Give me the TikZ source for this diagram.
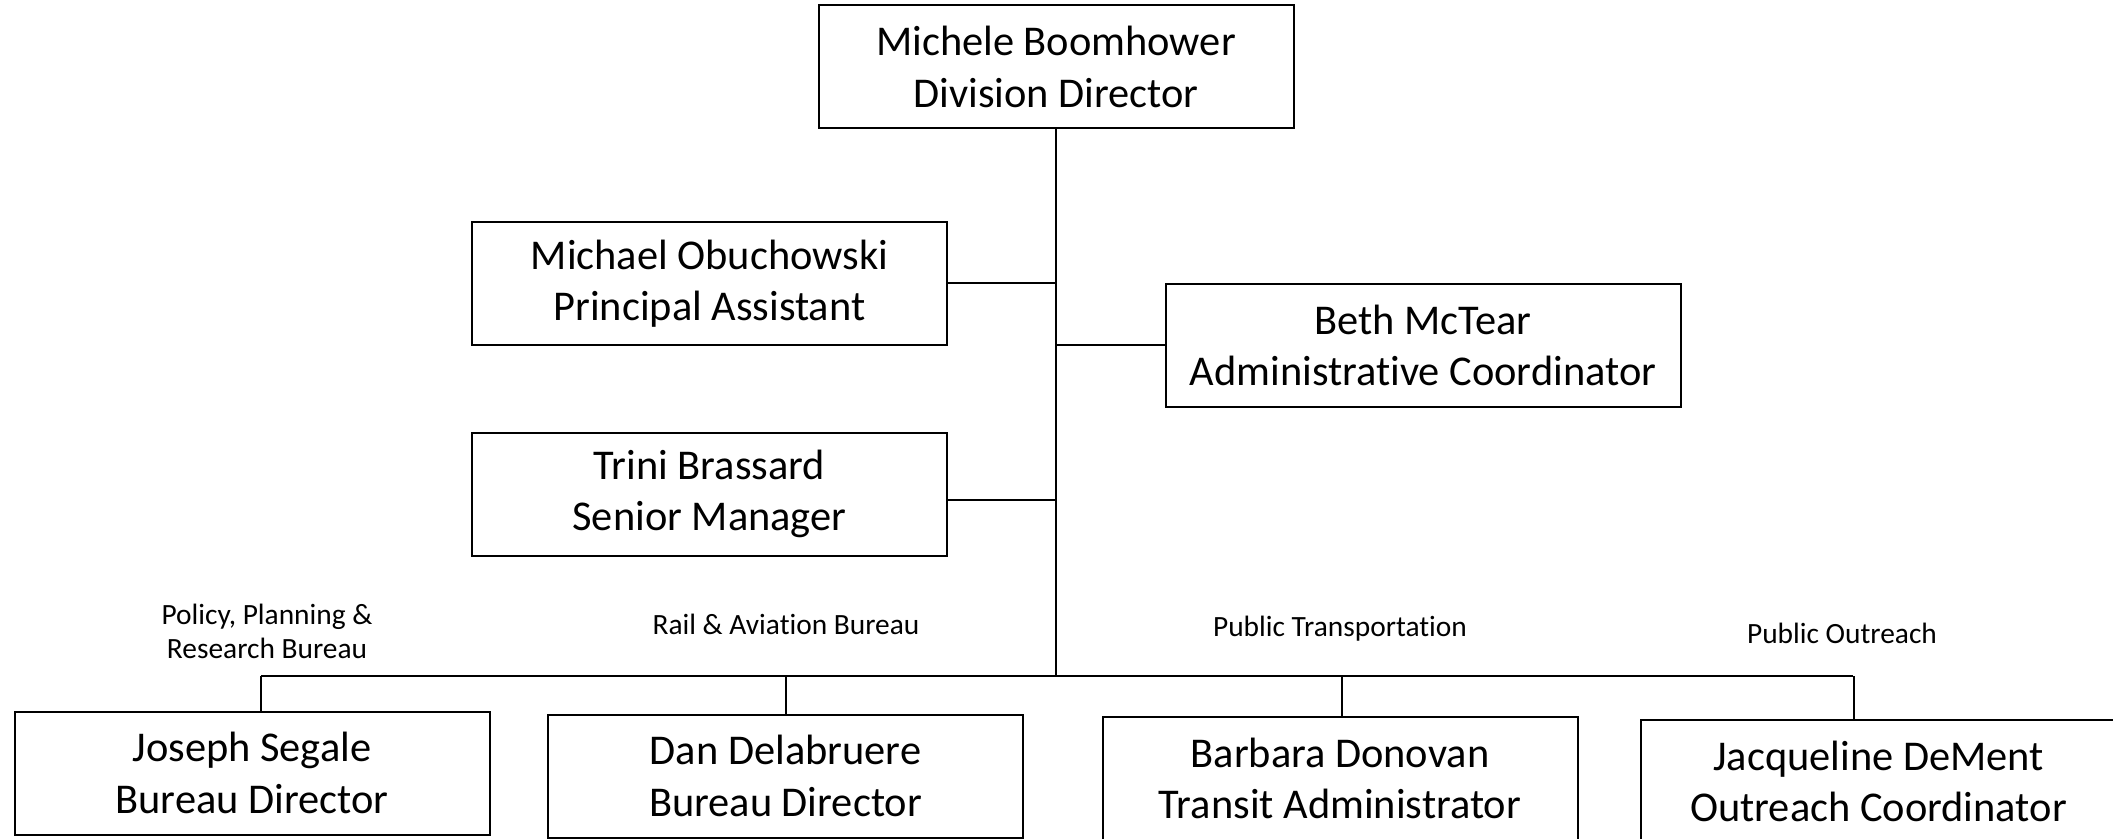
\documentclass[tikz,border=0pt]{standalone}
\usepackage{fontspec}
\setmainfont{Carlito}[Ligatures=NoCommon]

\begin{document}
\begin{tikzpicture}[x=0.5pt,y=-0.5pt,line width=1pt,
	person/.style={rectangle,draw,minimum width=237.5pt,minimum height=61.5pt,inner sep=0pt,align=center,font=\fontsize{21.2}{25.8}\selectfont},
	bureau/.style={align=center,font=\fontsize{14.7}{17}\selectfont}]
	\useasboundingbox (0,0) rectangle (2113,839);

	\node[person] (director) at (1056,67) {Michele Boomhower\\Division Director};

		\node[person] (assistant) at (709.5,283.5) {Michael Obuchowski\\Principal Assistant};
			\draw (assistant.east) -- (assistant.east -| director.south);

		\node[person,minimum width=257.5pt] (admin) at (1423,345.5) {Beth McTear\\Administrative Coordinator};
			\draw (admin.west) -- (admin.west -| director.south);

		\node[person] (manager) at (709.5,494) {Trini Brassard\\Senior Manager};
			\draw ([yshift=-3pt]manager.east) -- ([yshift=-3pt]manager.east -| director.south);

	% bureau bus
	\coordinate (busW) at (261,676);
	\coordinate (busE) at (1853,676);
	\draw (director.south) -- (director.south |- busW);
	\draw (busW) -- (busE);

	\node[bureau] (lPolicy) at (267,631) {Policy, Planning \&\\Research Bureau};
	\node[bureau] (lRail) at (786,624) {Rail \& Aviation Bureau};
	\node[bureau] (lTransit) at (1340,629) {Public Transportation};
	\node[bureau] (lOutreach) at (1842,633) {Public Outreach};

		\node[person] (policy) at (252,773) {Joseph Segale\\Bureau Director};
			\draw ([xshift=4.5pt]policy.north) -- ([xshift=4.5pt]policy.north |- busW);

		\node[person] (rail) at (785.5,776) {Dan Delabruere\\Bureau Director};
			\draw (rail.north) -- (rail.north |- busW);

		\node[person] (transit) at (1340,778.5) {Barbara Donovan\\Transit Administrator};
			\draw ([xshift=1pt]transit.north) -- ([xshift=1pt]transit.north |- busW);

		\node[person] (outreach) at (1878.5,781.5) {Jacqueline DeMent\\Outreach Coordinator};
			\draw ([xshift=-12.5pt]outreach.north) -- ([xshift=-12.5pt]outreach.north |- busE);
\end{tikzpicture}
\end{document}
